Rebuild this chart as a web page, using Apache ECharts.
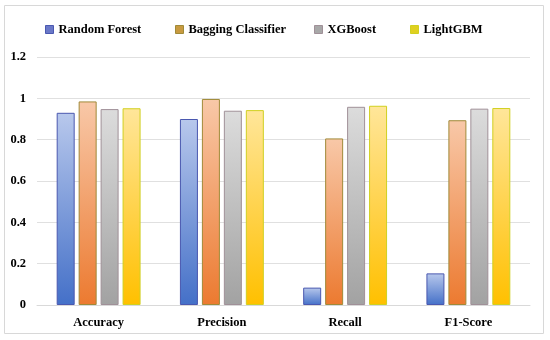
<!DOCTYPE html>
<html><head><meta charset="utf-8">
<script src="https://cdn.jsdelivr.net/npm/echarts@6/dist/echarts.min.js"></script>
<style>html,body{margin:0;padding:0;background:#fff}#c{width:550px;height:340px}</style>
</head><body><div id="c"></div>
<script>
const categories = ['Accuracy', 'Precision', 'Recall', 'F1-Score'];
const seriesNames = ['Random Forest', 'Bagging Classifier', 'XGBoost', 'LightGBM'];
const randomForest = [0.93, 0.90, 0.084, 0.153];
const baggingClassifier = [0.985, 0.997, 0.806, 0.894];
const xgboost = [0.948, 0.94, 0.959, 0.95];
const lightgbm = [0.952, 0.943, 0.964, 0.953];
const yTicks = [0, 0.2, 0.4, 0.6, 0.8, 1, 1.2];

const styles = [
  {top: '#b8c8ec', bottom: '#4470c8', border: '#4a58b0', icon: '#6a78c8'},
  {top: '#f8c8a8', bottom: '#ec7a30', border: '#a08a38', icon: '#c89a40'},
  {top: '#dcdcdc', bottom: '#a2a2a2', border: '#a09098', icon: '#a8a8a8'},
  {top: '#ffe69a', bottom: '#ffc000', border: '#d0d020', icon: '#e0d020'}
];
const values = [randomForest, baggingClassifier, xgboost, lightgbm];
const legendLefts = [45, 175, 314, 410];
const font = '"Liberation Serif", "DejaVu Serif", serif';

const chart = echarts.init(document.getElementById('c'));
chart.setOption({
  animation: false,
  graphic: [{type: 'rect', shape: {x: 4.5, y: 5.5, width: 539, height: 328}, style: {fill: 'none', stroke: '#d8d8d8', lineWidth: 1}, silent: true}],
  legend: seriesNames.map((n, i) => ({
    top: 23, left: legendLefts[i], padding: 0, itemWidth: 8, itemHeight: 8, itemGap: 0,
    textStyle: {fontFamily: font, fontWeight: 'bold', fontSize: 12.5, color: '#000'},
    data: [{name: n, icon: 'rect', itemStyle: {color: styles[i].icon, borderColor: styles[i].border, borderWidth: 1}}]
  })),
  grid: {left: 37, right: 20, top: 57, bottom: 35},
  xAxis: {
    type: 'category', data: categories,
    axisLine: {show: true, lineStyle: {color: '#d9d9d9'}}, axisTick: {show: false},
    axisLabel: {fontFamily: font, fontWeight: 'bold', fontSize: 12.5, color: '#000', margin: 11}
  },
  yAxis: {
    type: 'value', min: 0, max: 1.2, interval: 0.2,
    axisLine: {show: false}, axisTick: {show: false},
    splitLine: {lineStyle: {color: '#e0e0e0'}},
    axisLabel: {fontFamily: font, fontWeight: 'bold', fontSize: 12.5, color: '#000', margin: 11,
      formatter: v => { const t = yTicks.find(x => Math.abs(x - v) < 1e-6); return String(t !== undefined ? t : v); }}
  },
  series: seriesNames.map((n, i) => ({
    name: n, type: 'bar', data: values[i], barWidth: 18, barGap: '22%',
    itemStyle: {
      color: new echarts.graphic.LinearGradient(0, 0, 0, 1, [{offset: 0, color: styles[i].top}, {offset: 1, color: styles[i].bottom}]),
      borderColor: styles[i].border, borderWidth: 1
    }
  }))
});
</script></body></html>
